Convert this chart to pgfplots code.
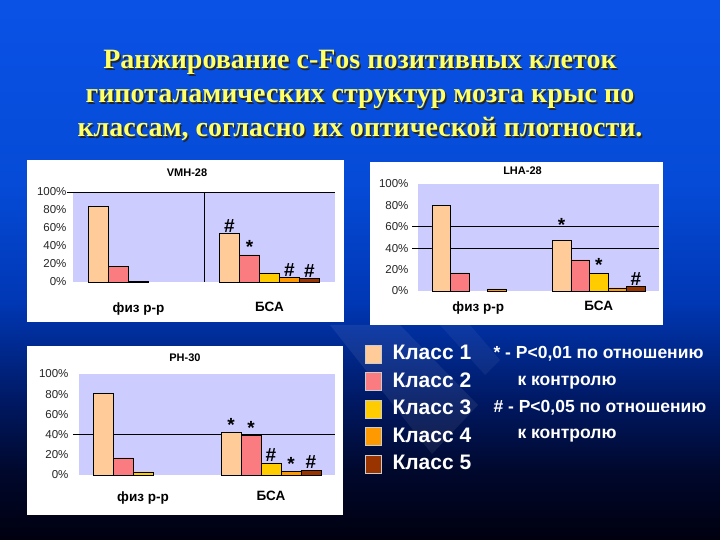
\documentclass[border=0pt]{standalone}
\usepackage{fontspec}
\setmainfont{Liberation Sans}
\newfontfamily\titlefont{Liberation Serif}
\usepackage{pgfplots}
\pgfplotsset{compat=1.18}
\definecolor{lilac}{RGB}{204,204,255}
\definecolor{cA}{RGB}{255,204,153}
\definecolor{cB}{RGB}{250,124,128}
\definecolor{cC}{RGB}{255,204,0}
\definecolor{cD}{RGB}{255,153,0}
\definecolor{cE}{RGB}{153,51,0}
\definecolor{ttl}{RGB}{255,255,102}
\definecolor{bg0}{RGB}{0,0,15}
\definecolor{bg1}{RGB}{0,8,45}
\definecolor{bg2}{RGB}{0,25,100}
\definecolor{bg3}{RGB}{0,55,180}
\definecolor{bg4}{RGB}{5,75,215}
\definecolor{bg5}{RGB}{10,82,230}
\pgfdeclareverticalshading{slidebg}{100bp}{color(0bp)=(bg0); color(25bp)=(bg0); color(31.5bp)=(bg1); color(38bp)=(bg2); color(47bp)=(bg3); color(58bp)=(bg4); color(75bp)=(bg5); color(100bp)=(bg5)}
\pgfplotsset{
 slide panel/.style={
   scale only axis, ybar=0pt, ymin=0, ymax=100, xmin=-0.5, xmax=1.5,
   xtick={0,1}, xticklabels={физ р-р,БСА}, ytick={0,20,...,100},
   yticklabel={\pgfmathprintnumber{\tick}\%},
   /pgf/number format/assume math mode=true,
   axis background/.style={fill=lilac},
   axis line style={draw=none},
   major tick length=0pt, ytick pos=left, xtick pos=bottom,
   tick label style={font=\fontsize{11.5}{13}\selectfont, text=black!85},
   xticklabel style={font=\bfseries\fontsize{13.5}{16}\selectfont, text=black},
   title style={font=\bfseries\fontsize{11}{13}\selectfont},
   extra y tick style={grid=major, major grid style={black, line width=0.7pt}, major tick length=6pt, tick align=outside, tick style={black, line width=0.7pt}},
   extra y tick labels={},
   extra x tick style={grid=major, major grid style={black, line width=0.7pt}},
   extra x tick labels={},
   nodes near coords, point meta=explicit symbolic,
   nodes near coords style={font=\bfseries\fontsize{19}{19}\selectfont, anchor=base, yshift=1pt, inner sep=0pt, text=black},
   every axis plot/.append style={draw=black, line width=0.5pt},
   clip=false,
 }
}
\begin{document}
\begin{tikzpicture}[x=1pt,y=1pt]
\useasboundingbox (0,0) rectangle (720,540);
\shade[shading=slidebg] (0,0) rectangle (720,540);
% faint diagonal light bands of the slide design
\fill[white, opacity=0.07] (330,215) -- (400,215) -- (478,135) -- (432,86) -- cycle;
\fill[white, opacity=0.05] (440,215) -- (470,215) -- (500,180) -- (485,165) -- cycle;
% title
\foreach \yy/\tt in {471/{Ранжирование c-Fos позитивных клеток},437/{гипоталамических структур мозга крыс по},403/{классам, согласно их оптической плотности.}}{
  \node[font=\titlefont\bfseries\fontsize{28}{30}\selectfont, text=black!85, anchor=base] at (361.5,\yy-1.5) {\tt};
  \node[font=\titlefont\bfseries\fontsize{28}{30}\selectfont, text=ttl, anchor=base] at (360,\yy) {\tt};
}
% panels
\fill[white] (27,218) rectangle (344,380);
\fill[white] (370,215) rectangle (663,378);
\fill[white] (27,25) rectangle (343,194);

% VMH-28
\begin{axis}[slide panel, at={(73pt,258pt)}, anchor=south west, width=262pt, height=90pt, bar width=20pt,
  title={VMH-28}, title style={xshift=-17pt, yshift=6pt},
  xticklabel style={yshift=-17pt}, yticklabel style={xshift=-3pt},
  extra y ticks={100}, extra x ticks={0.5}]
\addplot[fill=cA] coordinates {(0,84) [] (1,54) [\#]};
\addplot[fill=cB] coordinates {(0,17) [] (1,30) [*]};
\addplot[fill=cC] coordinates {(0,1) [] (1,10) []};
\addplot[fill=cD] coordinates {(1,5) [\#]};
\addplot[fill=cE] coordinates {(1,4) [\#]};
\end{axis}

% LHA-28
\begin{axis}[slide panel, at={(418pt,249pt)}, anchor=south west, width=241pt, height=107pt, bar width=18.6pt,
  title={LHA-28}, title style={xshift=-16pt, yshift=0pt},
  xticklabel style={yshift=-7pt}, yticklabel style={xshift=-6pt},
  extra y ticks={40,60}]
\addplot[fill=cA] coordinates {(0,80) [] (1,47) [\raisebox{8pt}{*}]};
\addplot[fill=cB] coordinates {(0,17) [] (1,29) []};
\addplot[fill=cC] coordinates {(1,17) [*]};
\addplot[fill=cD] coordinates {(0,2) [] (1,3) []};
\addplot[fill=cE] coordinates {(1,4) [\#]};
\end{axis}

% PH-30
\begin{axis}[slide panel, at={(79pt,65pt)}, anchor=south west, width=256pt, height=101pt, bar width=20pt,
  title={PH-30}, title style={xshift=-22pt, yshift=3pt},
  xticklabel style={yshift=-13pt}, yticklabel style={xshift=-7pt},
  extra y ticks={40},
  legend style={at={(1.117,1.31)}, anchor=north west, draw=none, fill=none, inner sep=0pt,
    font=\bfseries\fontsize{21}{22}\selectfont, text=white, row sep=5.5pt,
    nodes={inner sep=2pt, text height=15pt, text depth=3pt},
    /tikz/every odd column/.append style={column sep=9pt}},
  legend cell align=left,
  legend image code/.code={\draw[#1, draw=white!80!black, line width=0.4pt] (0pt,-9pt) rectangle (16pt,9pt);}]
\addplot[fill=cA] coordinates {(0,81) [] (1,42) [*]};
\addplot[fill=cB] coordinates {(0,17) [] (1,39) [*]};
\addplot[fill=cC] coordinates {(0,3) [] (1,12) [\#]};
\addplot[fill=cD] coordinates {(1,3.5) [*]};
\addplot[fill=cE] coordinates {(1,5) [\#]};
\legend{Класс 1,Класс 2,Класс 3,Класс 4,Класс 5}
\end{axis}

% notes
\begin{scope}[every node/.style={font=\bfseries\fontsize{17.5}{19}\selectfont, text=white}]
\node[anchor=base west] at (490,181) {* - P<0,01 по отношению};
\node[anchor=base] at (567,154) {к контролю};
\node[anchor=base west] at (490,127) {\# - P<0,05 по отношению};
\node[anchor=base] at (567,101) {к контролю};
\end{scope}
\end{tikzpicture}
\end{document}
